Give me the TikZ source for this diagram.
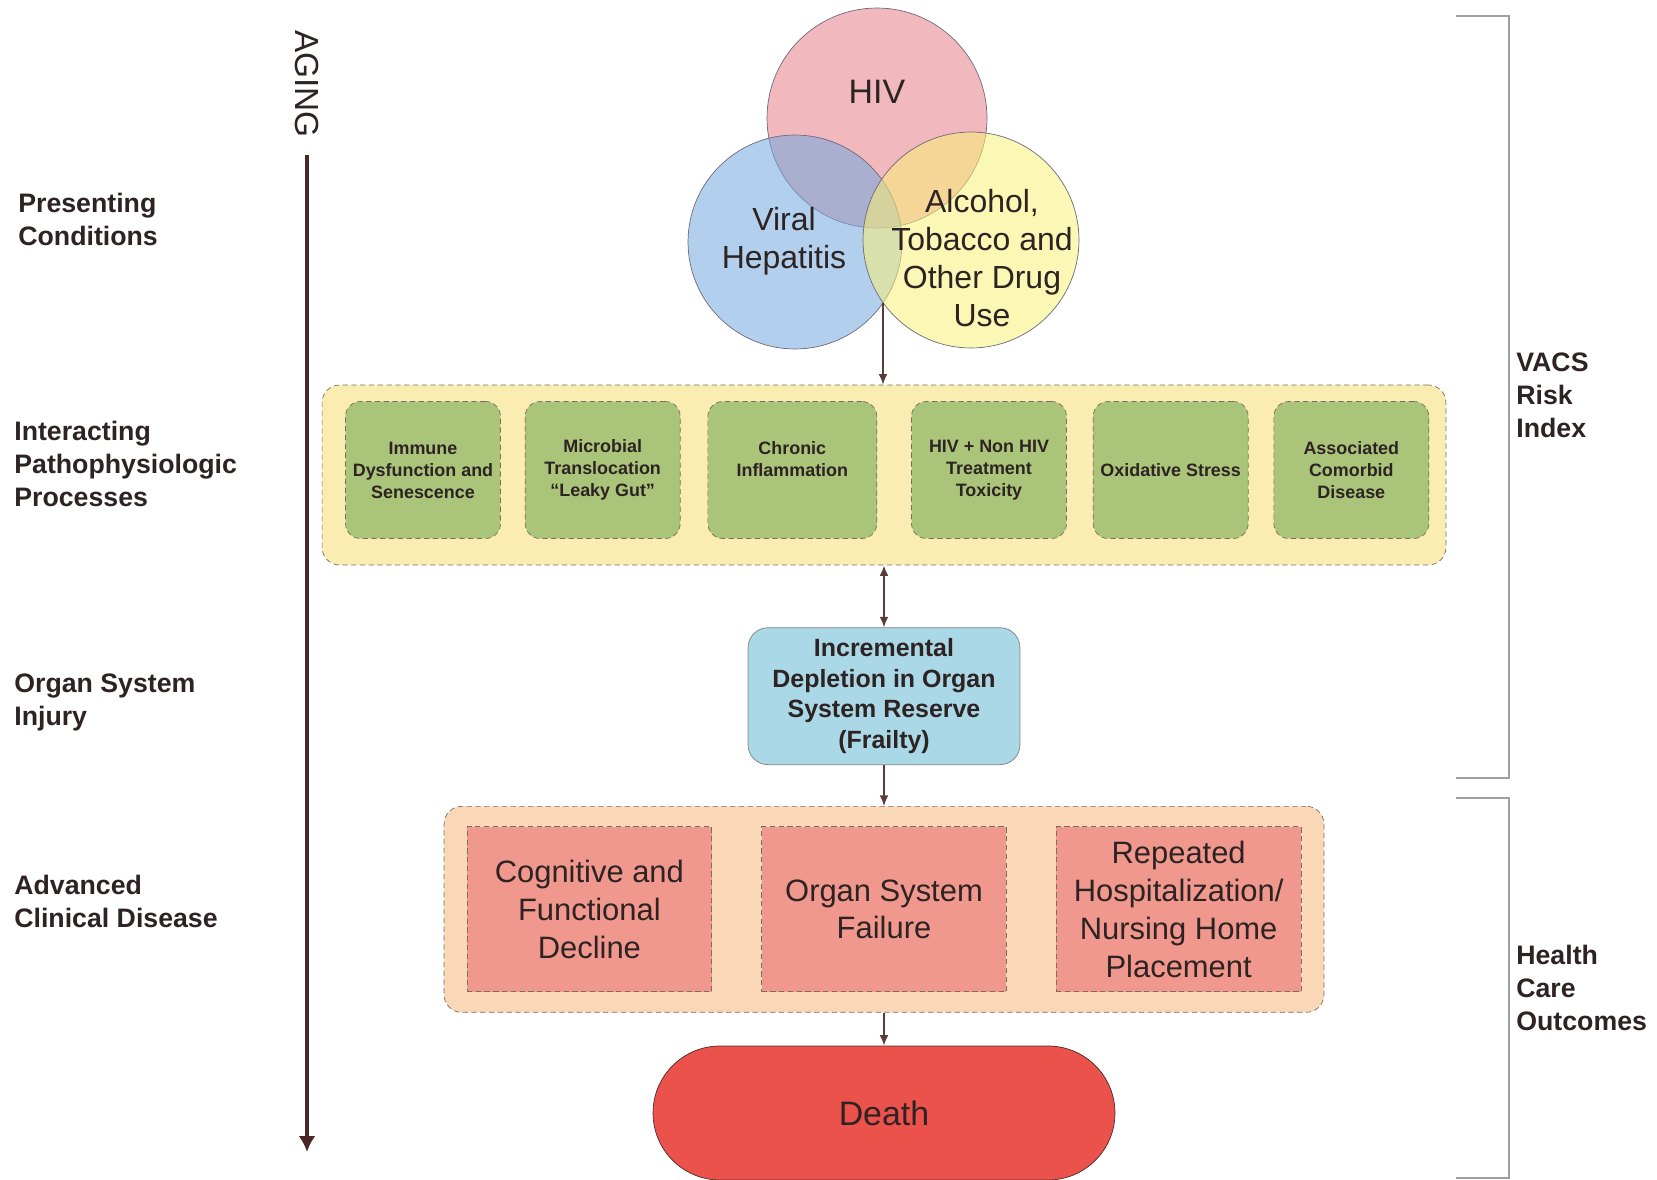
\documentclass[tikz,border=0pt]{standalone}
\usepackage{fontspec}
\setmainfont{Liberation Sans}
\usetikzlibrary{positioning,arrows.meta}

\definecolor{txt}{RGB}{45,35,35}
\definecolor{hivc}{RGB}{230,125,135}
\definecolor{hepc}{RGB}{115,168,222}
\definecolor{atdc}{RGB}{248,240,118}
\definecolor{circline}{RGB}{110,105,125}
\definecolor{yellowf}{RGB}{251,236,178}
\definecolor{greenf}{RGB}{170,196,122}
\definecolor{dashc}{RGB}{120,110,100}
\definecolor{bluef}{RGB}{170,216,230}
\definecolor{peachf}{RGB}{250,215,183}
\definecolor{redf}{RGB}{240,152,142}
\definecolor{deathf}{RGB}{236,82,76}
\definecolor{arrc}{RGB}{90,60,60}
\definecolor{agec}{RGB}{75,40,40}

\begin{document}
\begin{tikzpicture}[x=0.02cm,y=-0.02cm,>={Latex[length=6pt,width=5pt]}]
    \tikzstyle{every node}=[text=txt];
    \tikzstyle{circ}=[circle,draw=circline,fill opacity=0.55,text opacity=1];
    \tikzstyle{ctext}=[align=center,font=\fontsize{18.2}{21.6}\selectfont];
    \tikzstyle{outer}=[draw=dashc,dash pattern=on 3pt off 2pt,rounded corners=0.35cm];
    \tikzstyle{procbox}=[outer,fill=greenf,rounded corners=0.3cm,minimum width=3.1cm,minimum height=2.74cm,align=center,font=\bfseries\fontsize{10.2}{12.5}\selectfont];
    \tikzstyle{frailbox}=[draw=gray,fill=bluef,rounded corners=0.4cm,minimum width=5.44cm,minimum height=2.74cm,align=center,font=\bfseries\fontsize{14.2}{17.4}\selectfont];
    \tikzstyle{diseasebox}=[draw=dashc,dash pattern=on 3pt off 2pt,fill=redf,minimum width=4.9cm,minimum height=3.3cm,align=center,font=\fontsize{17.6}{21.5}\selectfont];
    \tikzstyle{deathbox}=[draw=agec,fill=deathf,rounded corners=1.34cm,minimum width=9.24cm,minimum height=2.68cm,font=\fontsize{19.3}{23}\selectfont];
    \tikzstyle{sidelabel}=[anchor=west,inner sep=0pt,align=left,font=\bfseries\fontsize{15.2}{18.8}\selectfont];
    \tikzstyle{flow}=[draw=arrc,line width=0.9pt,->];
    \tikzstyle{agearrow}=[draw=agec,line width=2.3pt,-{Latex[length=0.32cm,width=0.34cm]},shorten <=0.22cm];
    \tikzstyle{brk}=[draw=gray!75,line width=1.2pt];

    \useasboundingbox (0,0) rectangle (1657,1180);

    % presenting conditions
    \node[circ,fill=hivc,minimum size=4.4cm] (c1) at (877,118) {};
    \node[circ,fill=hepc,minimum size=4.28cm] (c2) at (795,242) {};
    \node[circ,fill=atdc,minimum size=4.32cm] (c3) at (971,240) {};
    \node[ctext,font=\fontsize{19.3}{23}\selectfont] (t1) at (877,92) {HIV};
    \node[ctext] (t2) at (784,241) {Viral\\Hepatitis};
    \node[ctext] (t3) at (982,258) {Alcohol,\\Tobacco and\\Other Drug\\Use};
    \coordinate (cx) at (883,303);

    % processes
    \node[outer,fill=yellowf,minimum width=22.48cm,minimum height=3.6cm] (y0) at (884,475) {};
    \node[procbox] (g1) at (423,470) {Immune\\Dysfunction and\\Senescence};
    \node[procbox,right=0.48cm of g1] (g2) {Microbial\\Translocation\\“Leaky Gut”};
    \node[procbox,right=0.54cm of g2,minimum width=3.38cm] (g3) {Chronic\\Inflammation\\\mbox{}};
    \node[procbox,right=0.68cm of g3] (g4) {HIV + Non HIV\\Treatment\\Toxicity};
    \node[procbox,right=0.52cm of g4] (g5) {Oxidative Stress};
    \node[procbox,right=0.5cm of g5] (g6) {Associated\\Comorbid\\Disease};

    % organ injury
    \node[frailbox,below=1.24cm of y0] (b0) {Incremental\\Depletion in Organ\\System Reserve\\(Frailty)};

    % clinical disease
    \node[outer,fill=peachf,minimum width=17.6cm,minimum height=4.12cm,below=0.82cm of b0] (p0) {};
    \node[diseasebox] (r2) at (p0) {Organ System\\Failure};
    \node[diseasebox,left=0.98cm of r2] (r1) {Cognitive and\\Functional\\Decline};
    \node[diseasebox,right=0.98cm of r2] (r3) {Repeated\\Hospitalization/\\Nursing Home\\Placement};
    \node[deathbox,below=0.66cm of p0] (d0) {Death};

    \draw[flow] (cx) -- (y0.north -| cx);
    \draw[flow,<->] (y0) -- (b0);
    \draw[flow] (b0) -- (p0);
    \draw[flow] (p0) -- (d0);

    % aging axis
    \node[rotate=-90,font=\fontsize{19}{21}\selectfont] (ag) at (307,84) {AGING};
    \coordinate (ae) at (307,1152);
    \draw[agearrow] (ag.east) -- (ae);

    \node[sidelabel] (l1) at (18,219) {Presenting\\Conditions};
    \node[sidelabel] (l2) at (14,464) {Interacting\\Pathophysiologic\\Processes};
    \node[sidelabel] (l3) at (14,702) {Organ System\\Injury};
    \node[sidelabel] (l4) at (14,901) {Advanced\\Clinical Disease};

    % brackets
    \draw[brk] (1456,16) -- (1509,16) -- (1509,778) -- (1456,778);
    \draw[brk] (1456,798) -- (1509,798) -- (1509,1178) -- (1456,1178);
    \node[sidelabel] (v0) at (1516,395) {VACS\\Risk\\Index};
    \node[sidelabel] (h0) at (1516,988) {Health\\Care\\Outcomes};
\end{tikzpicture}
\end{document}
